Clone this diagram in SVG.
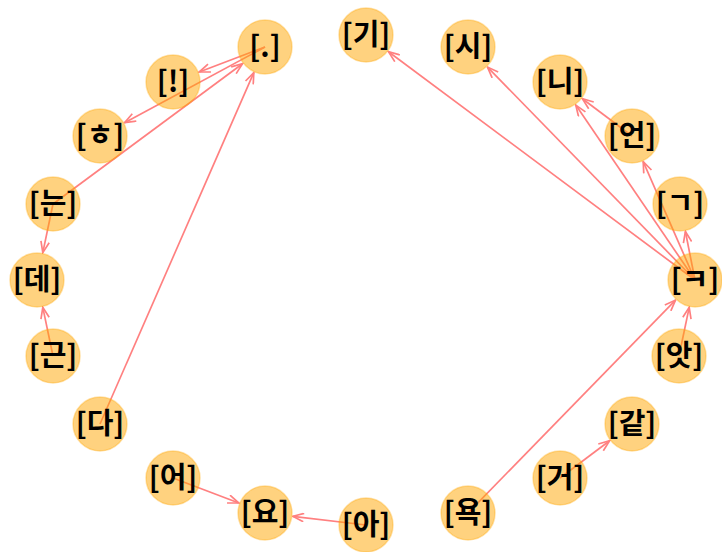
<svg xmlns="http://www.w3.org/2000/svg" width="722" height="552" viewBox="0 0 722 552">
<defs>
<style>
.e{stroke:#ff8080;stroke-width:1.7;fill:none;marker-end:url(#ah)}
.n circle{fill:#ffa500;fill-opacity:0.5;stroke:#ffa500;stroke-opacity:0.35;stroke-width:1.5}
.n text{font-family:"Noto Sans CJK KR",sans-serif;font-size:29px;font-weight:bold;fill:#000;text-anchor:middle}
</style>
<marker id="ah" viewBox="0 0 13 10" refX="12" refY="5" markerWidth="13" markerHeight="10" markerUnits="userSpaceOnUse" orient="auto">
<path d="M1,0.8 L12,5 L1,9.2" fill="none" stroke="#ff8080" stroke-width="1.7"/>
</marker>
</defs>
<rect width="722" height="552" fill="#fff"/>
<g id="edges">
<line class="e" x1="265" y1="47" x2="199.2" y2="72"/>
<line class="e" x1="265" y1="47" x2="124.6" y2="122.7"/>
<line class="e" x1="53" y1="204" x2="242.5" y2="63.7"/>
<line class="e" x1="100" y1="424" x2="253.8" y2="72.6"/>
<line class="e" x1="53" y1="204" x2="42.8" y2="252.6"/>
<line class="e" x1="53" y1="356" x2="42.8" y2="307.4"/>
<line class="e" x1="173" y1="478" x2="238.8" y2="503"/>
<line class="e" x1="366" y1="525" x2="292.8" y2="516.3"/>
<line class="e" x1="468" y1="513" x2="675.5" y2="300.1"/>
<line class="e" x1="560" y1="478" x2="609.6" y2="440.8"/>
<line class="e" x1="679" y1="356" x2="689.2" y2="307.4"/>
<line class="e" x1="695" y1="280" x2="685.4" y2="231.5"/>
<line class="e" x1="695" y1="280" x2="643.2" y2="161.6"/>
<line class="e" x1="695" y1="280" x2="575.8" y2="105.1"/>
<line class="e" x1="695" y1="280" x2="487.5" y2="67.1"/>
<line class="e" x1="695" y1="280" x2="388.5" y2="51.7"/>
<line class="e" x1="632" y1="136" x2="582.4" y2="98.8"/>
</g>
<g id="n-dot" class="n"><circle cx="265" cy="47" r="27"/><text x="265" y="57">[.]</text></g>
<g id="n-excl" class="n"><circle cx="173" cy="82" r="27"/><text x="173" y="92">[!]</text></g>
<g id="n-h" class="n"><circle cx="100" cy="136" r="27"/><text x="100" y="146">[ㅎ]</text></g>
<g id="n-neun" class="n"><circle cx="53" cy="204" r="27"/><text x="53" y="214">[는]</text></g>
<g id="n-de" class="n"><circle cx="37" cy="280" r="27"/><text x="37" y="290">[데]</text></g>
<g id="n-geun" class="n"><circle cx="53" cy="356" r="27"/><text x="53" y="366">[근]</text></g>
<g id="n-da" class="n"><circle cx="100" cy="424" r="27"/><text x="100" y="434">[다]</text></g>
<g id="n-eo" class="n"><circle cx="173" cy="478" r="27"/><text x="173" y="488">[어]</text></g>
<g id="n-yo" class="n"><circle cx="265" cy="513" r="27"/><text x="265" y="523">[요]</text></g>
<g id="n-a" class="n"><circle cx="366" cy="525" r="27"/><text x="366" y="535">[아]</text></g>
<g id="n-yok" class="n"><circle cx="468" cy="513" r="27"/><text x="468" y="523">[욕]</text></g>
<g id="n-geo" class="n"><circle cx="560" cy="478" r="27"/><text x="560" y="488">[거]</text></g>
<g id="n-gat" class="n"><circle cx="632" cy="424" r="27"/><text x="632" y="434">[같]</text></g>
<g id="n-at" class="n"><circle cx="679" cy="356" r="27"/><text x="679" y="366">[앗]</text></g>
<g id="n-k" class="n"><circle cx="695" cy="280" r="27"/><text x="695" y="290">[ㅋ]</text></g>
<g id="n-g" class="n"><circle cx="680" cy="204" r="27"/><text x="680" y="214">[ㄱ]</text></g>
<g id="n-eon" class="n"><circle cx="632" cy="136" r="27"/><text x="632" y="146">[언]</text></g>
<g id="n-ni" class="n"><circle cx="560" cy="82" r="27"/><text x="560" y="92">[니]</text></g>
<g id="n-si" class="n"><circle cx="468" cy="47" r="27"/><text x="468" y="57">[시]</text></g>
<g id="n-gi" class="n"><circle cx="366" cy="35" r="27"/><text x="366" y="45">[기]</text></g>
</svg>
